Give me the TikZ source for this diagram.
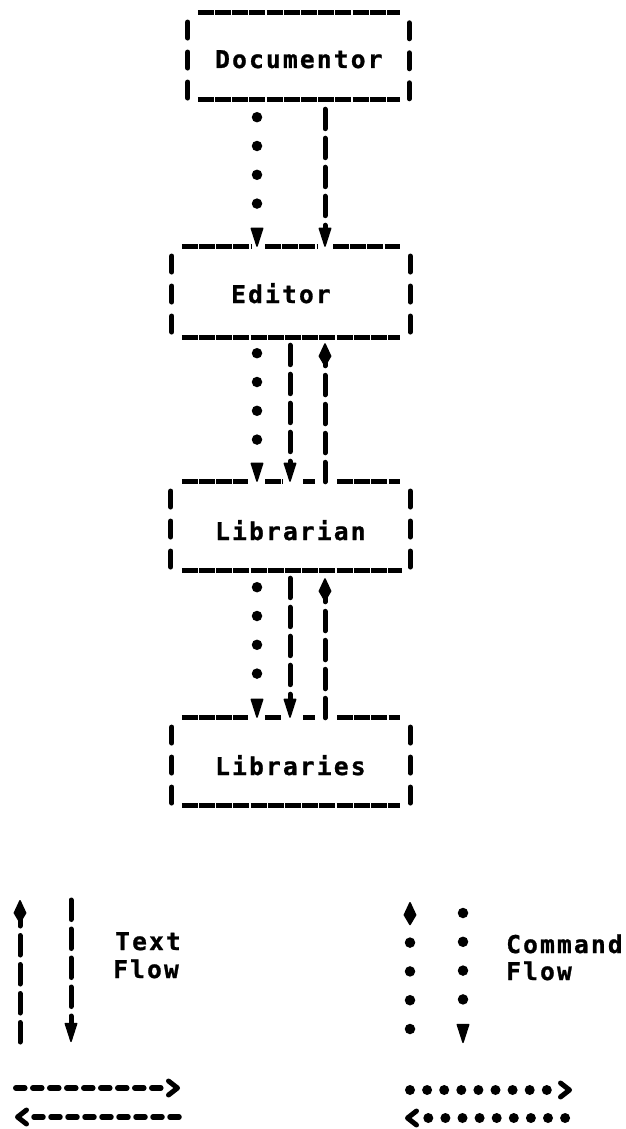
\documentclass[tikz,border=0pt]{standalone}
\usepackage{fontspec}
\newfontfamily\lp[LetterSpace=9,BoldFeatures={FakeBold=1}]{DejaVu Sans Mono}
\usetikzlibrary{arrows.meta,calc}
\tikzset{
  DownHead/.tip={Triangle[length=21pt,width=13pt,line width=1.5pt,round]},
  UpHead/.tip={Kite[length=25pt,width=13pt,inset=11pt,line width=1.5pt,round]},
  boxarea/.style={rectangle,draw=none,inner sep=0pt},
  lbl/.style={inner sep=0pt,font=\lp\bfseries\fontsize{24.5}{28}\selectfont,anchor=base west},
  hline/.style={line width=5pt,dash pattern=on 16pt off 1.2pt},
  vbar/.style={line width=5pt,line cap=round,dash pattern=on 16pt off 14pt},
  txt/.style={line width=5pt,line cap=round,dash pattern=on 19.5pt off 9.5pt},
  cmd/.style={line width=10.5pt,line cap=round,dash pattern=on 0pt off 28.8pt},
  txth/.style={line width=5.5pt,line cap=round,dash pattern=on 9pt off 8pt},
  cmdh/.style={line width=10pt,line cap=round,dash pattern=on 0pt off 17.1pt},
  chev/.style={line width=5pt,line cap=round,line join=round},
}
\begin{document}
\begin{tikzpicture}[x=1pt,y=-1pt]
\useasboundingbox (0,0) rectangle (626,1129);
% box areas
\node[boxarea,minimum width=221pt,minimum height=86pt] (doc) at (298.5,56) {};
\node[boxarea,minimum width=238pt,minimum height=90pt] (ed) at (291,292) {};
\node[boxarea,minimum width=239pt,minimum height=88pt] (lib) at (290.5,526) {};
\node[boxarea,minimum width=238pt,minimum height=87pt] (libs) at (291,761.5) {};
% labels
\node[lbl] (doct) at (215,68) {Documentor};
\node[lbl] (edt) at (231,303) {Editor};
\node[lbl] (libt) at (215,540) {Librarian};
\node[lbl] (libst) at (215,775) {Libraries};
% Documentor border
\draw[hline] ($(doc.north west)+(10,0)$) -- ($(doc.north east)+(-9,0)$);
\draw[hline] ($(doc.south west)+(10,0)$) -- ($(doc.south east)+(-9,0)$);
\draw[vbar] ($(doc.north west)+(0,9.25)$) -- ($(doc.south west)+(0,1)$);
\draw[vbar] ($(doc.north east)+(0,10)$) -- ($(doc.south east)+(0,1)$);
% Editor border
\draw[hline] ($(ed.north west)+(10,0)$) -- (252,0 |- ed.north);
\draw[hline] (265,0 |- ed.north) -- (318,0 |- ed.north);
\draw[hline] (333,0 |- ed.north) -- ($(ed.north east)+(-10,0)$);
\draw[hline] ($(ed.south west)+(10,0)$) -- ($(ed.south east)+(-10,0)$);
\draw[vbar] ($(ed.north west)+(0,9.25)$) -- ($(ed.south west)+(0,-1)$);
\draw[vbar] ($(ed.north east)+(0,9.25)$) -- ($(ed.south east)+(0,-1)$);
% Librarian border
\draw[hline] ($(lib.north west)+(11,0)$) -- (248,0 |- lib.north);
\draw[hline] (265,0 |- lib.north) -- (283,0 |- lib.north);
\draw[hline] (303,0 |- lib.north) -- (315,0 |- lib.north);
\draw[hline] (337,0 |- lib.north) -- ($(lib.north east)+(-10,0)$);
\draw[hline] ($(lib.south west)+(11,0)$) -- ($(lib.south east)+(-8,0)$);
\draw[vbar] ($(lib.north west)+(0,9.25)$) -- ($(lib.south west)+(0,-1)$);
\draw[vbar] ($(lib.north east)+(0,9.25)$) -- ($(lib.south east)+(0,-1)$);
% Libraries border
\draw[hline] ($(libs.north west)+(10,0)$) -- (248,0 |- libs.north);
\draw[hline] (265,0 |- libs.north) -- (282,0 |- libs.north);
\draw[hline] (303,0 |- libs.north) -- (315,0 |- libs.north);
\draw[hline] (337,0 |- libs.north) -- ($(libs.north east)+(-10,0)$);
\draw[hline] ($(libs.south west)+(10,0)$) -- ($(libs.south east)+(-10,0)$);
\draw[vbar] ($(libs.north west)+(0,9.25)$) -- ($(libs.south west)+(0,-1)$);
\draw[vbar] ($(libs.north east)+(0,9.25)$) -- ($(libs.south east)+(0,1)$);
% connectors Documentor -> Editor
\draw[cmd,-{DownHead}] ($(doc.south -| 257,0)+(0,18)$) -- (ed.north -| 257,0);
\draw[txt,-{DownHead}] ($(doc.south -| 325,0)+(0,10)$) -- (ed.north -| 325,0);
% Editor <-> Librarian
\draw[cmd,-{DownHead}] ($(ed.south -| 257,0)+(0,16)$) -- (lib.north -| 257,0);
\draw[txt,-{DownHead}] ($(ed.south -| 290,0)+(0,8)$) -- (lib.north -| 290,0);
\draw[txt,-{UpHead}] (lib.north -| 325,0) -- ($(ed.south -| 325,0)+(0,6)$);
% Librarian <-> Libraries
\draw[cmd,-{DownHead}] ($(lib.south -| 257,0)+(0,17)$) -- (libs.north -| 257,0);
\draw[txt,-{DownHead}] ($(lib.south -| 290,0)+(0,8)$) -- (libs.north -| 290,0);
\draw[txt,-{UpHead}] (libs.north -| 325,0) -- ($(lib.south -| 325,0)+(0,8)$);
% legend: text flow
\coordinate (tl0) at (20,1042); \coordinate (tl1) at (20,900);
\draw[txt,-{UpHead}] (tl0) -- (tl1);
\coordinate (tr0) at (71,900); \coordinate (tr1) at (71,1042);
\draw[txt,-{DownHead}] (tr0) -- (tr1);
\node[lbl] (tt) at (115,950) {Text};
\node[lbl] (tf) at (113,978) {Flow};
\coordinate (ha0) at (15.8,1088); \coordinate (ha1) at (177.5,1088);
\draw[txth] (ha0) -- ($(ha1)+(-15,0)$);
\draw[chev] ($(ha1)+(-9,-7)$) -- (ha1) -- ($(ha1)+(-9,7)$);
\coordinate (hb1) at (17.5,1117); \coordinate (hb0) at (180,1117);
\draw[txth] ($(hb1)+(16.5,0)$) -- (hb0);
\draw[chev] ($(hb1)+(9,-7)$) -- (hb1) -- ($(hb1)+(9,7)$);
% legend: command flow
\coordinate (cl0) at (410,1029); \coordinate (cl1) at (410,902);
\draw[cmd,-{UpHead}] (cl0) -- (cl1);
\coordinate (cr0) at (463,913); \coordinate (cr1) at (463,1043);
\draw[cmd,-{DownHead}] (cr0) -- (cr1);
\node[lbl] (ct) at (506,953) {Command};
\node[lbl] (cf) at (506,980) {Flow};
\coordinate (hc0) at (410,1090); \coordinate (hc1) at (569.5,1090);
\draw[cmdh] (hc0) -- ($(hc1)+(-20,0)$);
\draw[chev] ($(hc1)+(-9,-7)$) -- (hc1) -- ($(hc1)+(-9,7)$);
\coordinate (hd1) at (407.5,1118); \coordinate (hd0) at (566,1118);
\draw[cmdh] ($(hd1)+(20.8,0)$) -- (hd0);
\draw[chev] ($(hd1)+(9,-7)$) -- (hd1) -- ($(hd1)+(9,7)$);
\end{tikzpicture}
\end{document}
